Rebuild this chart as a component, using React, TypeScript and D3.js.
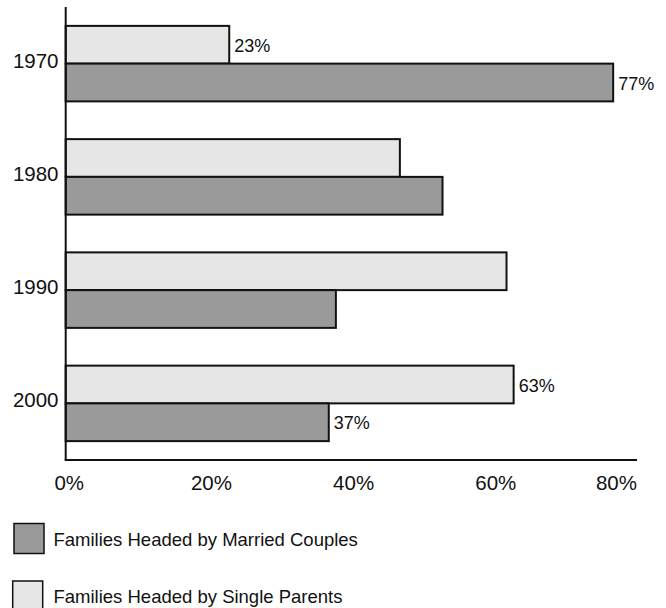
import React from "react";
import * as d3 from "d3";

// Share of families by household head, per census year (%)
const years = ["1970", "1980", "1990", "2000"];
const singleParents = [23, 47, 62, 63];
const marriedCouples = [77, 53, 38, 37];
// Which years print their values beside the bars
const labelledYears = ["1970", "2000"];
const xTicks = [0, 20, 40, 60, 80];
const seriesKeys = ["single", "married"];
const legendItems = [
  { key: "married", label: "Families Headed by Married Couples" },
  { key: "single", label: "Families Headed by Single Parents" },
];

const W = 666;
const H = 608;
const FONT = "'Liberation Sans', Arial, Helvetica, sans-serif";
const FILL: Record<string, string> = { married: "#9a9a9a", single: "#e6e6e6" };
const STROKE = "#111";

export default function App() {
  const axisLeft = 65.7;
  const axisTop = 7;
  const axisBottom = 460;
  const axisRight = 637;

  const x = d3.scaleLinear().domain([0, 80]).range([axisLeft, 634.5]);
  const y = d3
    .scaleBand<string>()
    .domain(years)
    .range([axisTop, axisBottom])
    .paddingInner(1 / 3)
    .paddingOuter(1 / 6);
  const inner = d3.scaleBand<string>().domain(seriesKeys).range([0, y.bandwidth()]);

  const rows = years.map((yr, i) => ({
    year: yr,
    values: { single: singleParents[i], married: marriedCouples[i] } as Record<string, number>,
  }));

  return (
    <svg
      width={W}
      height={H}
      style={{ position: "absolute", left: 0, top: 0, background: "#fff" }}
      fontFamily={FONT}
    >
      {rows.map((r) => {
        const y0 = y(r.year)!;
        const mid = y0 + inner("married")!;
        return (
          <g key={r.year}>
            {seriesKeys.map((k) => {
              const by = y0 + inner(k)!;
              const v = r.values[k];
              return (
                <g key={k}>
                  <rect
                    x={x(0)}
                    y={by}
                    width={x(v) - x(0)}
                    height={inner.bandwidth()}
                    fill={FILL[k]}
                    stroke={STROKE}
                    strokeWidth={2}
                  />
                  {labelledYears.includes(r.year) && (
                    <text
                      x={x(v) + 5}
                      y={by + inner.bandwidth() / 2 + 7}
                      fontSize={18}
                      fill="#111"
                    >
                      {v}%
                    </text>
                  )}
                </g>
              );
            })}
            <text x={58.5} y={mid + 4} textAnchor="end" fontSize={20.5} fill="#111">
              {r.year}
            </text>
          </g>
        );
      })}

      {/* axes */}
      <line x1={axisLeft} x2={axisLeft} y1={axisTop} y2={axisBottom} stroke={STROKE} strokeWidth={2} />
      <line x1={axisLeft - 1} x2={axisRight} y1={axisBottom} y2={axisBottom} stroke={STROKE} strokeWidth={2} />
      {xTicks.map((t, i) => {
        const last = i === xTicks.length - 1;
        return (
          <text
            key={t}
            x={last ? axisRight : x(t) + 3.5}
            y={axisBottom + 30}
            textAnchor={last ? "end" : "middle"}
            fontSize={20.5}
            fill="#111"
          >
            {t}%
          </text>
        );
      })}

      {/* legend */}
      {legendItems.map((d, i) => {
        const ly = 523.5 + i * 57.5;
        return (
          <g key={d.key}>
            <rect
              x={14 - i * 1.3}
              y={ly}
              width={30}
              height={30}
              fill={FILL[d.key]}
              stroke={STROKE}
              strokeWidth={1.5}
            />
            <text x={53.5} y={ly + 22} fontSize={18.5} fill="#111">
              {d.label}
            </text>
          </g>
        );
      })}
    </svg>
  );
}
